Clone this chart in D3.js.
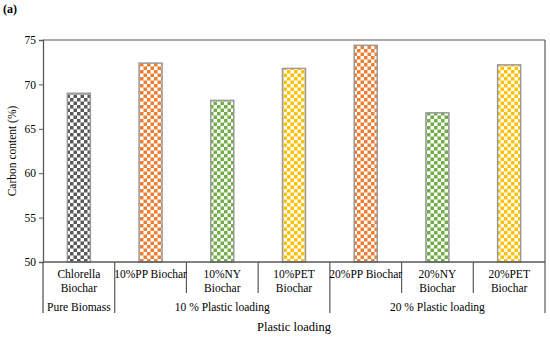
<!DOCTYPE html>
<html>
<head>
<meta charset="utf-8">
<script src="https://cdn.jsdelivr.net/npm/d3@7"></script>
<style>
  body { margin: 0; background: #fff; }
  text { font-family: "Liberation Serif", "Times New Roman", serif; fill: #000; }
</style>
</head>
<body>
<script>
// Chart data
const categories = ['Chlorella Biochar', '10%PP Biochar', '10%NY Biochar', '10%PET Biochar',
                    '20%PP Biochar', '20%NY Biochar', '20%PET Biochar'];
const categoryLines = [['Chlorella', 'Biochar'], ['10%PP Biochar'], ['10%NY', 'Biochar'], ['10%PET', 'Biochar'],
                       ['20%PP Biochar'], ['20%NY', 'Biochar'], ['20%PET', 'Biochar']];
const carbonContent = [69.0, 72.4, 68.2, 71.8, 74.4, 66.8, 72.2];
const barColors = ['#595959', '#ED7D31', '#70AD47', '#FFC000', '#ED7D31', '#70AD47', '#FFC000'];
const groups = [
    { label: 'Pure Biomass', start: 0, end: 1 },
    { label: '10 % Plastic loading', start: 1, end: 4 },
    { label: '20 % Plastic loading', start: 4, end: 7 }
];
const yTicks = [50, 55, 60, 65, 70, 75];

const width = 550;
const height = 337;
const margin = { top: 40, right: 5, bottom: 75, left: 43 };

const svg = d3.select('body')
    .append('svg')
    .attr('width', width)
    .attr('height', height);

const x = d3.scaleBand()
    .domain(categories)
    .range([margin.left, width - margin.right])
    .paddingInner(0)
    .paddingOuter(0);

const y = d3.scaleLinear()
    .domain([50, 75])
    .range([height - margin.bottom, margin.top]);

// Checkerboard patterns, one per colour
const defs = svg.append('defs');
const cell = 3.5;
Array.from(new Set(barColors)).forEach(c => {
    const p = defs.append('pattern')
        .attr('id', 'chk' + c.slice(1))
        .attr('patternUnits', 'userSpaceOnUse')
        .attr('width', cell * 2)
        .attr('height', cell * 2);
    p.append('rect').attr('width', cell * 2).attr('height', cell * 2).attr('fill', '#fff');
    p.append('rect').attr('width', cell).attr('height', cell).attr('fill', c);
    p.append('rect').attr('x', cell).attr('y', cell).attr('width', cell).attr('height', cell).attr('fill', c);
});

// Bars
const barW = 23;
svg.selectAll('.bar')
    .data(categories)
    .enter()
    .append('rect')
    .attr('class', 'bar')
    .attr('x', d => x(d) + x.bandwidth() / 2 - barW / 2)
    .attr('y', (d, i) => y(carbonContent[i]))
    .attr('width', barW)
    .attr('height', (d, i) => y(50) - y(carbonContent[i]))
    .attr('fill', (d, i) => `url(#chk${barColors[i].slice(1)})`)
    .attr('stroke', '#9a9a9a')
    .attr('stroke-width', 1.5);

// Y axis
const yAxis = svg.append('g')
    .attr('transform', `translate(${margin.left},0)`)
    .call(d3.axisLeft(y).tickValues(yTicks).tickSize(4).tickPadding(3));
yAxis.select('.domain').attr('stroke', '#595959').attr('stroke-width', 1.3);
yAxis.selectAll('.tick line').attr('stroke', '#595959');
yAxis.selectAll('text').style('font-size', '11.5px');

const axisY = y(50);
const lineColor = '#595959';

// Frame: top, right, bottom axis
svg.append('line')
    .attr('x1', margin.left).attr('x2', width - margin.right)
    .attr('y1', margin.top).attr('y2', margin.top)
    .attr('stroke', lineColor).attr('stroke-width', 1.2);
svg.append('line')
    .attr('x1', margin.left).attr('x2', width - margin.right)
    .attr('y1', axisY).attr('y2', axisY)
    .attr('stroke', lineColor).attr('stroke-width', 1.5);
svg.append('line')
    .attr('x1', width - margin.right).attr('x2', width - margin.right)
    .attr('y1', margin.top).attr('y2', axisY + 51)
    .attr('stroke', lineColor).attr('stroke-width', 1.2);
// left axis extends down through the label area
svg.append('line')
    .attr('x1', margin.left).attr('x2', margin.left)
    .attr('y1', axisY).attr('y2', axisY + 51)
    .attr('stroke', lineColor).attr('stroke-width', 1.3);

// Separators between categories (short) and groups (long)
const groupEdges = groups.map(g => g.end);
categories.slice(1).forEach((c, i) => {
    const isGroup = groupEdges.includes(i + 1);
    svg.append('line')
        .attr('x1', x(c)).attr('x2', x(c))
        .attr('y1', axisY).attr('y2', axisY + (isGroup ? 51 : 31))
        .attr('stroke', lineColor).attr('stroke-width', 1.2);
});

// Category labels
categories.forEach((c, i) => {
    const t = svg.append('text')
        .attr('x', x(c) + x.bandwidth() / 2)
        .attr('y', axisY + 16)
        .attr('text-anchor', 'middle')
        .style('font-size', '11.5px');
    categoryLines[i].forEach((ln, j) => {
        t.append('tspan')
            .attr('x', x(c) + x.bandwidth() / 2)
            .attr('dy', j === 0 ? 0 : 14)
            .text(ln);
    });
});

// Group labels
groups.forEach(g => {
    const x0 = x(categories[g.start]);
    const x1 = x(categories[g.end - 1]) + x.bandwidth();
    svg.append('text')
        .attr('x', (x0 + x1) / 2)
        .attr('y', axisY + 49)
        .attr('text-anchor', 'middle')
        .style('font-size', '11.5px')
        .text(g.label);
});

// Axis titles
svg.append('text')
    .attr('x', (margin.left + width - margin.right) / 2)
    .attr('y', axisY + 69)
    .attr('text-anchor', 'middle')
    .style('font-size', '12.5px')
    .text('Plastic loading');

svg.append('text')
    .attr('transform', `translate(16,${(margin.top + axisY) / 2}) rotate(-90)`)
    .attr('text-anchor', 'middle')
    .style('font-size', '11.5px')
    .text('Carbon content (%)');

svg.append('text')
    .attr('x', 3)
    .attr('y', 13)
    .attr('font-weight', 'bold')
    .style('font-size', '12px')
    .text('(a)');
</script>
</body>
</html>
